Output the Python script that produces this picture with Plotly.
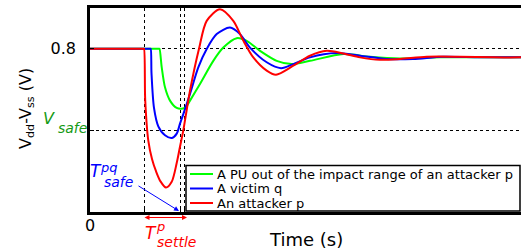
import plotly.graph_objects as go

# ---- data (time in arbitrary units, voltage in V) ----
series_names = ["A PU out of the impact range of an attacker p", "A victim q", "An attacker p"]
series_colors = ["#00ff00", "#0000ff", "#ff0000"]

t_green = [0, 40, 60, 67, 69, 69.5, 71.7, 75, 80, 86.7, 91.7, 96, 100, 110,
           123.3, 133.3, 146.7, 156.7, 170, 186.7, 201.7, 220, 253.3, 280,
           310, 350, 431]
v_green = [0.8, 0.8, 0.8, 0.8, 0.8, 0.8, 0.71, 0.611, 0.546, 0.51, 0.506, 0.515, 0.546, 0.628,
           0.741, 0.806, 0.852, 0.839, 0.79, 0.741, 0.725, 0.741, 0.774, 0.761,
           0.753, 0.758, 0.758]

t_blue = [0, 40, 55, 59, 60.2, 60.7, 61.5, 64, 68.3, 75, 82, 86.7, 90, 93.3,
          100, 108.3, 116.7, 126.7, 140, 150, 160, 176.7, 191, 203.3,
          220, 246.7, 270, 296.7, 323, 353, 390, 431]
v_blue = [0.8, 0.8, 0.8, 0.8, 0.8, 0.8, 0.68, 0.51, 0.42, 0.376, 0.363, 0.384, 0.433, 0.48,
          0.579, 0.709, 0.799, 0.872, 0.904, 0.872, 0.806, 0.734, 0.705, 0.725,
          0.758, 0.779, 0.766, 0.75, 0.75, 0.761, 0.758, 0.758]

t_red = [0, 30, 45, 51, 53.5, 54, 55.2, 58.3, 62, 66, 70.5, 76, 81.7, 86.7,
         90, 93.3, 96.7, 100, 109, 116.7, 130, 143.3, 153.3, 163.3,
         176.7, 186, 203.3, 220, 236.7, 253.3, 270, 290, 310, 336.7,
         370, 403, 431]
v_red = [0.8, 0.8, 0.8, 0.8, 0.8, 0.8, 0.55, 0.35, 0.26, 0.20, 0.15, 0.12, 0.148, 0.24,
         0.32, 0.40, 0.50, 0.595, 0.80, 0.937, 0.994, 0.937, 0.84, 0.758,
         0.693, 0.673, 0.717, 0.766, 0.79, 0.777, 0.758, 0.746, 0.75, 0.761,
         0.761, 0.758, 0.758]

x_gridlines = [0, 54, 90, 94]
x_ticktext = ["0", "", "", ""]
y_gridlines = [0.4, 0.8]
y_ticktext = ["", "0.8"]

FONT = "DejaVu Sans"
W, H = 521, 249
ML, MR, MT, MB = 90, 0, 8, 37
PW, PH = W - ML - MR, H - MT - MB


def px(x):
    return (x - ML) / PW


def py(y):
    return (H - MB - y) / PH


fig = go.Figure()
for t, v, name, col in [(t_green, v_green, series_names[0], series_colors[0]),
                        (t_blue, v_blue, series_names[1], series_colors[1]),
                        (t_red, v_red, series_names[2], series_colors[2])]:
    fig.add_trace(go.Scatter(x=t, y=v, mode="lines", name=name,
                             line=dict(color=col, width=2, shape="spline", smoothing=0.8),
                             showlegend=False, hoverinfo="skip"))

axis_common = dict(showgrid=True, gridcolor="black", griddash="dot", gridwidth=1,
                   showline=True, linecolor="black", linewidth=2.5,
                   ticks="inside", ticklen=4, tickcolor="black", tickwidth=1,
                   zeroline=False, tickfont=dict(family=FONT, size=16, color="black"))

fig.update_xaxes(range=[0, PW], tickvals=x_gridlines, ticktext=x_ticktext,
                 mirror=True, ticklabelstandoff=-3, **axis_common)
fig.update_yaxes(range=[0, 1], tickvals=y_gridlines, ticktext=y_ticktext,
                 mirror=False, ticklabelstandoff=8, **axis_common)

ann = []
# axis titles
ann.append(dict(text="Time (s)", x=px(306), y=py(239), xref="paper", yref="paper",
                showarrow=False, xanchor="center", yanchor="middle", borderpad=0,
                font=dict(family=FONT, size=18, color="black")))
ann.append(dict(text="V<sub>dd</sub>-V<sub>ss</sub> (V)", x=px(26), y=py(109),
                xref="paper", yref="paper", showarrow=False, textangle=-90,
                xanchor="center", yanchor="middle",
                font=dict(family=FONT, size=16, color="black")))


def label(txt, cx, cy, size, color):
    ann.append(dict(text="<i>" + txt + "</i>", x=px(cx), y=py(cy), xref="paper", yref="paper",
                    showarrow=False, xanchor="center", yanchor="middle", borderpad=0,
                    font=dict(family=FONT, size=size, color=color)))


# V_safe
label("V", 48.5, 118.5, 16, "#159a15")
label("safe", 72, 128, 14, "#159a15")
# T^pq_safe
label("T", 96, 171, 17, "#0000ff")
label("pq", 109, 167.5, 13, "#0000ff")
label("safe", 118, 182, 14, "#0000ff")
# T^p_settle
label("T", 150.5, 232.5, 17, "#ff0000")
label("p", 160.5, 226, 13, "#ff0000")
label("settle", 176.5, 241.5, 14, "#ff0000")

# arrows
ann.append(dict(text="", x=px(179), y=py(211), xref="paper", yref="paper",
                ax=137 - 179, ay=185 - 211, axref="pixel", ayref="pixel",
                showarrow=True, arrowhead=2, arrowsize=1, arrowwidth=1, arrowcolor="#0000ff"))
ann.append(dict(text="", x=px(187), y=py(217.5), xref="paper", yref="paper",
                ax=-44, ay=0, showarrow=True, arrowhead=2, startarrowhead=2,
                arrowside="end+start", arrowsize=1, startarrowsize=1,
                arrowwidth=1, arrowcolor="#ff0000"))

# manual legend (compact like the reference)
shapes = [dict(type="rect", xref="paper", yref="paper", x0=px(186), x1=px(520),
               y0=py(211), y1=py(165.5), line=dict(color="black", width=1.5),
               fillcolor="white", layer="above")]
legend_rows = [174, 188.5, 203]
for name, col, yy in zip(series_names, series_colors, legend_rows):
    shapes.append(dict(type="line", xref="paper", yref="paper", x0=px(190), x1=px(213),
                       y0=py(yy), y1=py(yy), line=dict(color=col, width=2), layer="above"))
    ann.append(dict(text=name, x=px(215), y=py(yy), xref="paper", yref="paper",
                    showarrow=False, xanchor="left", yanchor="middle",
                    font=dict(family=FONT, size=13, color="black")))

fig.update_layout(width=W, height=H, margin=dict(l=ML, r=MR, t=MT, b=MB),
                  paper_bgcolor="white", plot_bgcolor="white",
                  annotations=ann, shapes=shapes, showlegend=False)

fig.write_html("out.html", config={"displayModeBar": False},
               post_script="document.body.style.margin='0';document.body.style.overflow='hidden';")
